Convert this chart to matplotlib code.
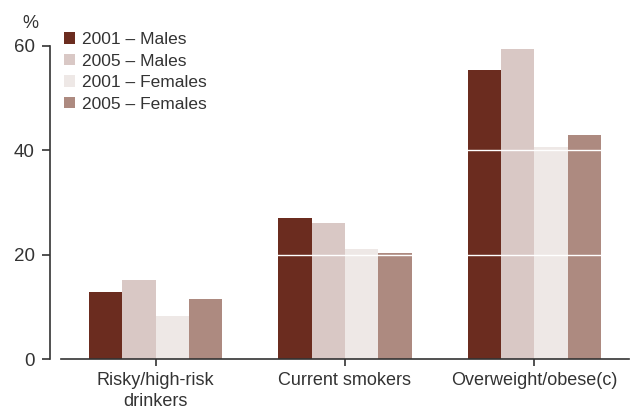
import matplotlib
matplotlib.use("Agg")
import matplotlib.pyplot as plt
import numpy as np

plt.rcParams['font.family'] = ['Liberation Sans', 'DejaVu Sans']

categories = ["Risky/high-risk\ndrinkers", "Current smokers", "Overweight/obese(c)"]
series_names = ["2001 \u2013 Males", "2005 \u2013 Males", "2001 \u2013 Females", "2005 \u2013 Females"]
males_2001 = [12.8, 27.0, 55.4]
males_2005 = [15.1, 26.1, 59.4]
females_2001 = [8.2, 21.1, 40.6]
females_2005 = [11.5, 20.3, 42.9]
colors = ["#6b2c1f", "#d9c8c5", "#eee8e6", "#ad8a80"]
y_ticks = [0, 20, 40, 60]

text_color = "#333333"

fig = plt.figure(figsize=(6.3, 4.12), dpi=100)
ax = fig.add_axes([61 / 630, 1 - 359.3 / 412, (629 - 61) / 630, (359.3 - 46) / 412])

x = np.arange(len(categories))
width = 0.176
values = [males_2001, males_2005, females_2001, females_2005]
for i, (vals, name, c) in enumerate(zip(values, series_names, colors)):
    ax.bar(x + (i - 1.5) * width, vals, width, color=c, label=name, zorder=2, linewidth=0)

# white reference lines cut across the bars
for yv in y_ticks[1:-1]:
    ax.axhline(yv, color="white", lw=1.0, zorder=3)

ax.set_xlim(-0.5, 2.5)
ax.set_ylim(0, 60)
ax.set_yticks(y_ticks)
ax.set_xticks(x)
ax.set_xticklabels(categories, linespacing=1.3)

for s in ["top", "right"]:
    ax.spines[s].set_visible(False)
ax.spines["left"].set_position(("outward", 7.9))
ax.spines["left"].set_bounds(0, 60)
for s in ["left", "bottom"]:
    ax.spines[s].set_color(text_color)
    ax.spines[s].set_linewidth(1.2)

ax.tick_params(axis="y", direction="out", length=6, width=1.2, color=text_color,
               labelsize=13.5, labelcolor=text_color, pad=5)
ax.tick_params(axis="x", direction="out", length=5, width=1.2, color=text_color,
               labelsize=13, labelcolor=text_color, pad=4)

fig.text(30 / 630, 1 - 24 / 412, "%", ha="center", va="center", fontsize=13, color=text_color)

leg = ax.legend(loc="upper left", bbox_to_anchor=(-0.007, 1.066), frameon=False,
                fontsize=12.5, handlelength=0.63, handleheight=0.63, handletextpad=0.4,
                labelspacing=0.37, borderaxespad=0.0, borderpad=0.4)
for t in leg.get_texts():
    t.set_color(text_color)

fig.savefig("out.png", dpi=100)
